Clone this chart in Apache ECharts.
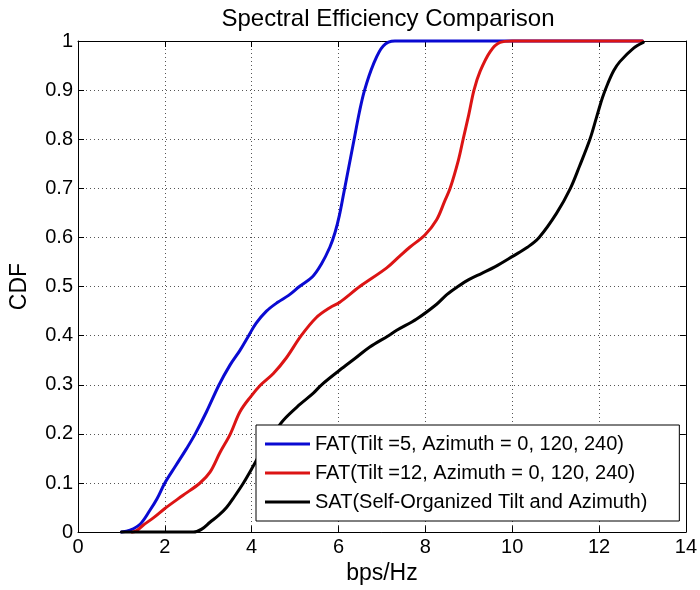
<!DOCTYPE html>
<html>
<head>
<meta charset="utf-8">
<script src="https://cdn.jsdelivr.net/npm/echarts@6/dist/echarts.min.js"></script>
<style>
html,body{margin:0;padding:0;background:#fff;}
#chart{width:700px;height:590px;}
</style>
</head>
<body>
<div id="chart"></div>
<script>
const titleText = 'Spectral Efficiency Comparison';
const xName = 'bps/Hz';
const yName = 'CDF';
const seriesNames = [
  'FAT(Tilt =5, Azimuth = 0, 120, 240)',
  'FAT(Tilt =12, Azimuth = 0, 120, 240)',
  'SAT(Self-Organized Tilt and Azimuth)'
];

const blueX = [1.0, 1.2, 1.43, 1.66, 1.82, 2.0, 2.25, 2.5, 2.7, 2.96, 3.25, 3.5, 3.73, 3.93, 4.1, 4.34, 4.6, 4.85, 5.1, 5.4, 5.6, 5.8, 5.92, 6.02, 6.12, 6.24, 6.36, 6.48, 6.6, 6.8, 7.03, 7.3, 13.0];
const blueY = [0, 0.004, 0.016, 0.045, 0.068, 0.10, 0.135, 0.17, 0.20, 0.245, 0.30, 0.34, 0.37, 0.40, 0.425, 0.45, 0.468, 0.482, 0.50, 0.52, 0.545, 0.58, 0.61, 0.645, 0.69, 0.745, 0.80, 0.855, 0.90, 0.952, 0.99, 1.0, 1.0];

const redX = [1.25, 1.35, 1.5, 1.75, 2.0, 2.42, 2.81, 3.04, 3.27, 3.51, 3.73, 3.97, 4.21, 4.5, 4.8, 5.14, 5.49, 5.8, 6.03, 6.49, 7.11, 7.41, 7.64, 7.99, 8.26, 8.45, 8.57, 8.76, 8.87, 9.0, 9.12, 9.26, 9.49, 9.72, 10.0, 13.0];
const redY = [0, 0.003, 0.014, 0.03, 0.048, 0.075, 0.10, 0.122, 0.162, 0.20, 0.245, 0.275, 0.30, 0.323, 0.355, 0.40, 0.437, 0.457, 0.468, 0.50, 0.538, 0.562, 0.58, 0.605, 0.636, 0.675, 0.70, 0.757, 0.80, 0.85, 0.90, 0.938, 0.978, 0.997, 1.0, 1.0];

const blackX = [1.0, 2.66, 2.85, 3.04, 3.25, 3.42, 3.6, 3.81, 4.04, 4.25, 4.5, 4.73, 5.11, 5.42, 5.61, 6.03, 6.4, 6.72, 7.15, 7.34, 7.8, 8.26, 8.5, 8.75, 9.0, 9.3, 9.6, 10.02, 10.35, 10.62, 11.02, 11.34, 11.55, 11.79, 11.94, 12.08, 12.2, 12.34, 12.48, 12.79, 13.02];
const blackY = [0, 0, 0.006, 0.02, 0.035, 0.05, 0.072, 0.10, 0.135, 0.168, 0.20, 0.228, 0.26, 0.283, 0.30, 0.33, 0.355, 0.377, 0.40, 0.411, 0.434, 0.464, 0.484, 0.50, 0.514, 0.527, 0.54, 0.562, 0.58, 0.60, 0.649, 0.70, 0.745, 0.80, 0.844, 0.885, 0.913, 0.94, 0.958, 0.985, 0.997];

const xMin = 0, xMax = 14, xStep = 2;
const yMin = 0, yMax = 1, yStep = 0.1;

function zip(xs, ys) { return xs.map((x, i) => [x, ys[i]]); }

const FONT = '"Liberation Sans", Arial, sans-serif';
const chart = echarts.init(document.getElementById('chart'), null, {renderer: 'canvas'});

const gridLine = {show: true, lineStyle: {color: '#555', type: [1, 3], width: 1}};
const baseAxisLine = {show: true, onZero: false, lineStyle: {color: '#000', width: 1}};
const tick = {show: true, inside: true, length: 6, lineStyle: {color: '#000', width: 1}};

function mkSeries(name, data, color) {
  return {
    name: name, type: 'line', data: data, xAxisIndex: 0, yAxisIndex: 0,
    symbol: 'none', showSymbol: false, clip: false,
    smooth: 0.35,
    lineStyle: {color: color, width: 3, join: 'round', cap: 'round'}, itemStyle: {color: color},
    emphasis: {disabled: true}
  };
}

chart.setOption({
  animation: false,
  backgroundColor: '#fff',
  title: {
    text: titleText, left: 383, top: 2, textAlign: 'center',
    textStyle: {fontFamily: FONT, fontSize: 24, fontWeight: 'normal', color: '#000'}
  },
  grid: {left: 78, right: 12, top: 41, bottom: 53, show: false},
  legend: {
    data: seriesNames, orient: 'vertical', left: 256, top: 425,
    icon: 'rect', itemWidth: 45, itemHeight: 3, itemGap: 9,
    padding: [9, 32, 9, 9],
    backgroundColor: '#fff', borderColor: '#000', borderWidth: 1, borderRadius: 0,
    textStyle: {fontFamily: FONT, fontSize: 20, color: '#000', lineHeight: 20},
    selectedMode: false
  },
  xAxis: [
    {
      type: 'value', position: 'bottom', min: xMin, max: xMax, interval: xStep,
      name: xName, nameLocation: 'middle', nameGap: 20,
      nameTextStyle: {fontFamily: FONT, fontSize: 23, color: '#000'},
      axisLine: baseAxisLine, axisTick: tick, splitLine: gridLine,
      axisLabel: {fontFamily: FONT, fontSize: 20, color: '#000', margin: 5}
    },
    {
      type: 'value', position: 'top', min: xMin, max: xMax, interval: xStep,
      axisLine: baseAxisLine, axisTick: tick, splitLine: {show: false},
      axisLabel: {show: false}
    }
  ],
  yAxis: [
    {
      type: 'value', position: 'left', min: yMin, max: yMax, interval: yStep,
      name: yName, nameLocation: 'middle', nameGap: 47, nameRotate: 90,
      nameTextStyle: {fontFamily: FONT, fontSize: 23, color: '#000'},
      axisLine: baseAxisLine, axisTick: tick, splitLine: gridLine,
      axisLabel: {fontFamily: FONT, fontSize: 20, color: '#000', margin: 5}
    },
    {
      type: 'value', position: 'right', min: yMin, max: yMax, interval: yStep,
      axisLine: baseAxisLine, axisTick: tick, splitLine: {show: false},
      axisLabel: {show: false}
    }
  ],
  series: [
    mkSeries(seriesNames[0], zip(blueX, blueY), '#0a0ad2'),
    mkSeries(seriesNames[1], zip(redX, redY), '#dc1414'),
    mkSeries(seriesNames[2], zip(blackX, blackY), '#000000')
  ]
});
</script>
</body>
</html>
